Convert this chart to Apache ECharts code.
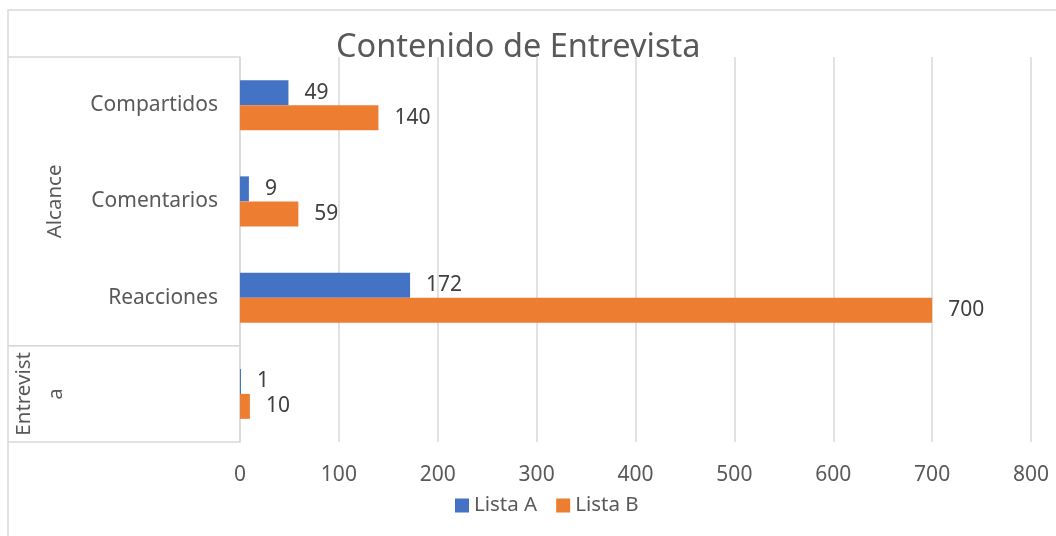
<!DOCTYPE html>
<html>
<head>
<meta charset="utf-8">
<script src="https://cdn.jsdelivr.net/npm/echarts@6/dist/echarts.min.js"></script>
<style>
  html, body { margin: 0; padding: 0; background: #fff; }
  #chart { width: 1056px; height: 536px; }
</style>
</head>
<body>
<div id="chart"></div>
<script>
// categorias, de arriba hacia abajo
const categorias = ['Compartidos', 'Comentarios', 'Reacciones', ''];
// grupos del eje (nivel externo)
const grupoNombres = ['Alcance', 'Entrevist\na'];
const grupoInicio = [0, 3];
const grupoFin = [2, 3];
// valores
const listaA = [49, 9, 172, 1];
const listaB = [140, 59, 700, 10];
const ejeMax = 800;
const ejePaso = 100;

const fuente = '"Noto Sans", "Open Sans", sans-serif';
const gris = '#d9d9d9';

const chart = echarts.init(document.getElementById('chart'));

const option = {
  animation: false,
  backgroundColor: '#fff',
  textStyle: { fontFamily: fuente },
  title: {
    text: 'Contenido de Entrevista',
    left: 331,
    top: 26,
    textStyle: { fontFamily: fuente, fontSize: 32.5, fontWeight: 'normal', color: '#595959' },
  },
  legend: {
    top: 490,
    left: 450,
    itemWidth: 14,
    itemHeight: 14,
    itemGap: 19,
    icon: 'rect',
    textStyle: { fontFamily: fuente, fontSize: 20.5, color: '#595959' },
    data: ['Lista A', 'Lista B'],
  },
  grid: { left: 240, right: 25, top: 57, bottom: 94 },
  xAxis: {
    type: 'value',
    min: 0,
    max: ejeMax,
    interval: ejePaso,
    axisLine: { show: false },
    axisTick: { show: false },
    axisLabel: { fontSize: 21, color: '#595959', margin: 23, fontFamily: fuente },
    splitLine: { lineStyle: { color: gris, width: 1.5 } },
  },
  yAxis: {
    type: 'category',
    inverse: true,
    data: categorias,
    axisLine: { lineStyle: { color: gris, width: 1.5 } },
    axisTick: { show: false },
    axisLabel: { fontSize: 21, color: '#595959', margin: 22, fontFamily: fuente },
  },
  series: [
    {
      name: 'Lista A',
      type: 'bar',
      data: listaA,
      barWidth: 25,
      barGap: '0%',
      itemStyle: { color: '#4472c4' },
      label: { show: true, position: 'right', distance: 16, fontSize: 21, color: '#404040', fontFamily: fuente },
    },
    {
      name: 'Lista B',
      type: 'bar',
      data: listaB,
      barWidth: 25,
      barGap: '0%',
      itemStyle: { color: '#ed7d31' },
      label: { show: true, position: 'right', distance: 16, fontSize: 21, color: '#404040', fontFamily: fuente },
    },
  ],
};
chart.setOption(option);

// caja del eje de categorias de dos niveles
const dibujarGrupos = () => {
  const izq = 8;
  const der = chart.convertToPixel({ xAxisIndex: 0 }, 0);
  const c0 = chart.convertToPixel({ yAxisIndex: 0 }, 0);
  const c1 = chart.convertToPixel({ yAxisIndex: 0 }, 1);
  const banda = Math.abs(c1 - c0);
  const elementos = [
    {
      type: 'rect',
      shape: { x: izq, y: 10, width: 1100, height: 600 },
      style: { fill: 'none', stroke: gris, lineWidth: 1.5 },
      silent: true,
    },
  ];
  grupoNombres.forEach((nombre, i) => {
    const yIni = chart.convertToPixel({ yAxisIndex: 0 }, grupoInicio[i]) - banda / 2;
    const yFin = chart.convertToPixel({ yAxisIndex: 0 }, grupoFin[i]) + banda / 2;
    [yIni, yFin].forEach((y) => {
      elementos.push({
        type: 'line',
        shape: { x1: izq, y1: y, x2: der, y2: y },
        style: { stroke: gris, lineWidth: 1.5 },
        silent: true,
      });
    });
    const multilinea = nombre.indexOf('\n') >= 0;
    elementos.push({
      type: 'text',
      x: multilinea ? 40 : 55,
      y: (yIni + yFin) / 2,
      rotation: Math.PI / 2,
      style: {
        text: nombre,
        align: 'center',
        verticalAlign: 'middle',
        fontSize: 20.5,
        lineHeight: 32,
        fontFamily: fuente,
        fill: '#595959',
      },
      silent: true,
    });
  });
  chart.setOption({ graphic: elementos });
};
dibujarGrupos();
</script>
</body>
</html>
